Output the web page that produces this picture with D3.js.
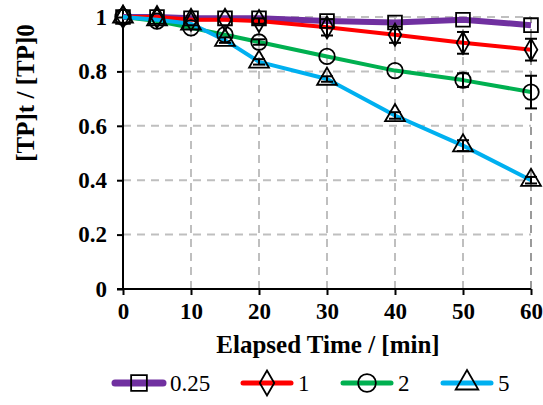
<!DOCTYPE html>
<html><head><meta charset="utf-8">
<script src="https://cdn.jsdelivr.net/npm/d3@7"></script>
</head><body style="margin:0"><svg id="c" width="543" height="405" style="display:block"></svg>
<script>
const times = [0,5,10,15,20,30,40,50,60];
const seriesNames = ["0.25","1","2","5"];
const v025 = [1,1,0.995,0.995,0.995,0.985,0.98,0.99,0.97];
const v1   = [1,1,0.99,0.99,0.985,0.962,0.935,0.905,0.88];
const v2   = [1,0.985,0.96,0.935,0.908,0.855,0.803,0.768,0.724];
const v5   = [1,0.99,0.975,0.915,0.835,0.772,0.638,0.527,0.40];
const e025 = [0,0,0,0,0,0,0,0,0];
const e1   = [0,0,0,0,0.01,0.03,0.03,0.04,0.04];
const e2   = [0,0,0,0,0.01,0,0,0.025,0.06];
const e5   = [0,0,0,0.01,0.01,0.01,0.012,0.02,0.012];
const xTicks = [0,10,20,30,40,50,60];
const yTicks = [0,0.2,0.4,0.6,0.8,1];
const colors = ["#7030A0","#FF0000","#00B050","#00B0F0"];
const widths = [6,4,4,4];
const symbols = [d3.symbolSquare, d3.symbolDiamond, d3.symbolCircle, d3.symbolTriangle];
const symSizes = [190, 140, 190, 170];
const values = [v025,v1,v2,v5];
const errs = [e025,e1,e2,e5];

const svg = d3.select("#c");
const x = d3.scaleLinear().domain([0,60]).range([123,531]);
const y = d3.scaleLinear().domain([0,1]).range([289,17]);
const FAM = "\"Times New Roman\", \"Liberation Serif\", Tinos, serif";

function txt(sel, size, bold){
  sel.attr("font-family",FAM)
    .style("font-family",FAM,"important").style("font-size",size+"px","important").style("font-weight",bold?"bold":"normal","important");
}

// grid
svg.append("g").selectAll("line").data(xTicks.filter(d=>d>0)).join("line")
  .attr("x1",d=>x(d)).attr("x2",d=>x(d)).attr("y1",y(0)).attr("y2",y(1))
  .attr("stroke",d=>d===60?"#595959":"#bfbfbf").attr("stroke-width",d=>d===60?1.2:2).attr("stroke-dasharray","8,6");
svg.append("g").selectAll("line").data(yTicks.filter(d=>d>0)).join("line")
  .attr("x1",x(0)).attr("x2",x(60)).attr("y1",d=>y(d)).attr("y2",d=>y(d))
  .attr("stroke","#bfbfbf").attr("stroke-width",2).attr("stroke-dasharray","8,6");

// axes
const xa = svg.append("g").attr("transform",`translate(0,${y(0)})`)
  .call(d3.axisBottom(x).tickValues(xTicks).tickSize(6).tickPadding(8).tickFormat(d3.format("d")));
const ya = svg.append("g").attr("transform",`translate(${x(0)},0)`)
  .call(d3.axisLeft(y).tickValues(yTicks).tickSize(6).tickPadding(10).tickFormat(d=>d===0?"0":d===1?"1":d3.format(".1f")(d)));
[xa,ya].forEach(a=>{
  a.attr("font-family",FAM).attr("font-size",null);
  a.select(".domain").attr("stroke","#000").attr("stroke-width",2);
  a.selectAll(".tick line").attr("stroke","#000").attr("stroke-width",2);
  txt(a.selectAll("text").attr("fill","#000"), 23, true);
});
ya.select(".domain").attr("d",`M-6,${y(0)}H0V10`);
xa.select(".domain").attr("d",`M${x(0)},0H${x(60)}`);

// lines
const line = d3.line().x((d,i)=>x(times[i])).y(d=>y(d));
values.forEach((vals,k)=>{
  svg.append("path").datum(vals).attr("d",line).attr("fill","none")
    .attr("stroke",colors[k]).attr("stroke-width",widths[k]).attr("stroke-linejoin","round");
});
// error bars and markers
values.forEach((vals,k)=>{
  const g = svg.append("g");
  vals.forEach((v,i)=>{
    const e = errs[k][i];
    if(e>0){
      const cx = x(times[i]);
      g.append("line").attr("x1",cx).attr("x2",cx).attr("y1",y(v-e)).attr("y2",y(v+e)).attr("stroke","#000").attr("stroke-width",2);
      [v-e,v+e].forEach(b=>g.append("line").attr("x1",cx-6).attr("x2",cx+6).attr("y1",y(b)).attr("y2",y(b)).attr("stroke","#000").attr("stroke-width",2));
    }
  });
  g.selectAll("path").data(vals).join("path")
    .attr("transform",(d,i)=>`translate(${x(times[i])},${y(d)})`)
    .attr("d",d3.symbol().type(symbols[k]).size(symSizes[k]))
    .attr("fill","none").attr("stroke","#000").attr("stroke-width",1.8);
});

// axis titles
txt(svg.append("text").attr("x",328).attr("y",353).attr("text-anchor","middle").text("Elapsed Time / [min]"), 25, true);
txt(svg.append("text").attr("transform",`translate(34,93) rotate(-90)`).attr("text-anchor","middle").text("[TP]t / [TP]0"), 25, true);

// legend
const legX = [115,243,343,443];
seriesNames.forEach((n,k)=>{
  const g = svg.append("g").attr("transform",`translate(${legX[k]},383)`);
  g.append("line").attr("x1",0).attr("x2",48).attr("stroke",colors[k]).attr("stroke-width",widths[k]+1).attr("stroke-linecap","round");
  g.append("path").attr("transform","translate(24,0)").attr("d",d3.symbol().type(symbols[k]).size(symSizes[k]*1.3))
    .attr("fill","none").attr("stroke","#000").attr("stroke-width",1.8);
  txt(g.append("text").attr("x",55).attr("y",8).text(n), 23, false);
});
</script></body></html>
